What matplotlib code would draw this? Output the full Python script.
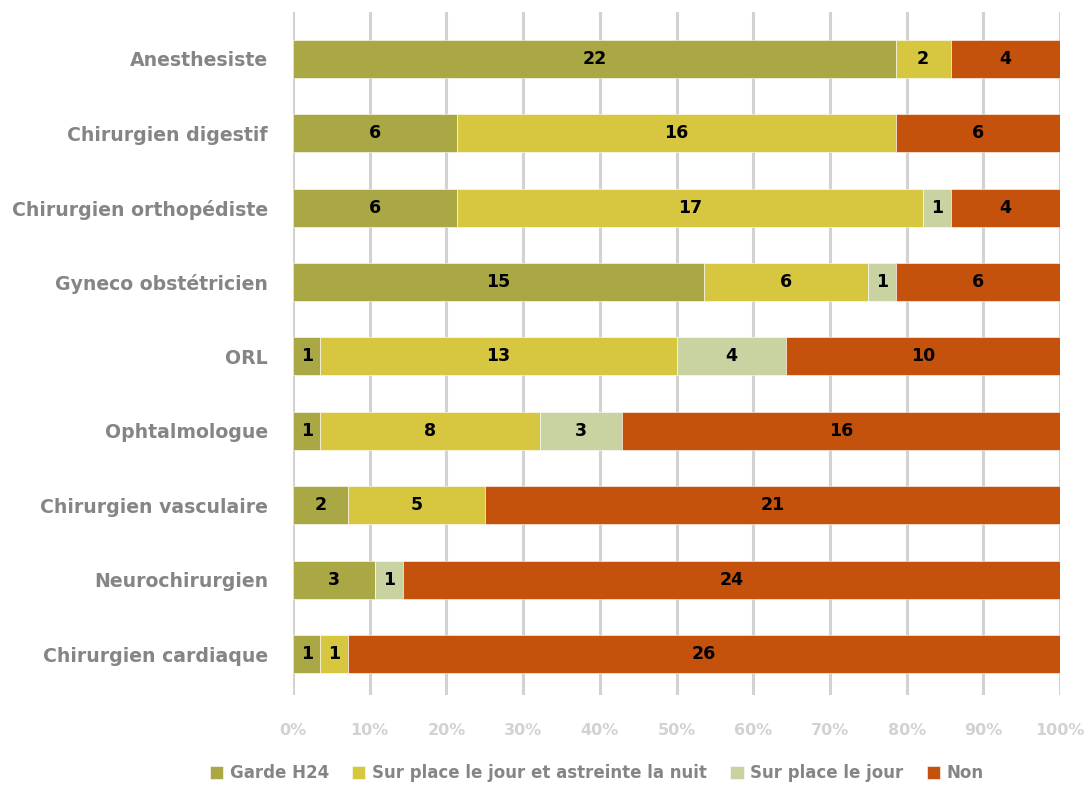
import numpy as np
import matplotlib
matplotlib.use("Agg")
import matplotlib.pyplot as plt

categories = ["Anesthesiste", "Chirurgien digestif", "Chirurgien orthopédiste",
              "Gyneco obstétricien", "ORL", "Ophtalmologue",
              "Chirurgien vasculaire", "Neurochirurgien", "Chirurgien cardiaque"]
series_names = ["Garde H24", "Sur place le jour et astreinte la nuit",
                "Sur place le jour", "Non"]
garde_h24 = [22, 6, 6, 15, 1, 1, 2, 3, 1]
astreinte = [2, 16, 17, 6, 13, 8, 5, 0, 1]
sur_place = [0, 0, 1, 1, 4, 3, 0, 1, 0]
non = [4, 6, 4, 6, 10, 16, 21, 24, 26]
colors = ["#A9A845", "#D6C640", "#C9D3A1", "#C4520C"]

plt.rcParams['font.family'] = ['DejaVu Sans']
fig = plt.figure(figsize=(10.89, 7.88), dpi=100)
ax = fig.add_axes([0.269, 0.118, 0.7045, 0.867])

data = np.array([garde_h24, astreinte, sur_place, non], dtype=float)
totals = data.sum(axis=0)
pct = data / totals * 100
y = np.arange(len(categories))
left = np.zeros(len(categories))
for k in range(4):
    ax.barh(y, pct[k], left=left, height=0.51, color=colors[k],
            edgecolor="white", linewidth=0.4, label=series_names[k], zorder=3)
    for i in range(len(categories)):
        if data[k, i] > 0:
            ax.text(left[i] + pct[k, i] / 2, y[i], "%d" % data[k, i],
                    ha="center", va="center", fontsize=12.5, fontweight="bold",
                    color="black", zorder=4)
    left += pct[k]

ax.set_xlim(0, 100)
ax.set_ylim(8.55, -0.63)
ax.set_yticks(y)
ax.set_yticklabels(categories, fontsize=13.6, fontweight="bold", color="#858585")
ax.set_xticks(np.arange(0, 101, 10))
ax.set_xticklabels(["%d%%" % v for v in range(0, 101, 10)], fontsize=11.5,
                   fontweight="bold", color="#D2D2D2")
ax.tick_params(axis="y", length=0, pad=18)
ax.tick_params(axis="x", length=0, pad=20)
ax.grid(axis="x", color="#D2D2D2", linewidth=2.2, zorder=0)
ax.set_axisbelow(True)
for s in ax.spines.values():
    s.set_visible(False)

leg = fig.legend(loc="lower center", bbox_to_anchor=(0.548, -0.012), ncol=4,
                 frameon=False, handlelength=0.8, handleheight=0.8,
                 handletextpad=0.4, columnspacing=1.4,
                 prop={"size": 12, "weight": "bold"})
for t in leg.get_texts():
    t.set_color("#858585")

fig.savefig("out.png", dpi=100)
